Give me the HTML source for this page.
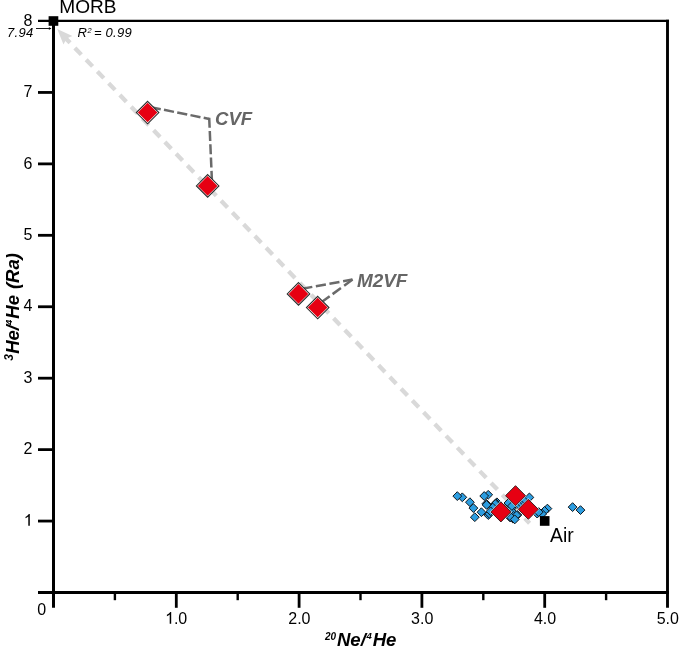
<!DOCTYPE html>
<html><head><meta charset="utf-8"><title>chart</title>
<style>
html,body{margin:0;padding:0;background:#fff;}
body{width:685px;height:652px;overflow:hidden;font-family:"Liberation Sans",sans-serif;}
svg{display:block;will-change:transform;}
text{font-family:"Liberation Sans",sans-serif;}
</style></head><body>
<svg width="685" height="652" viewBox="0 0 685 652">
<rect x="0" y="0" width="685" height="652" fill="#ffffff"/>
<g id="trend">
<line x1="63.65" y1="36.14" x2="529.6" y2="523.2" stroke="#d9d9d9" stroke-width="4.3" stroke-dasharray="9.3 6.97"/>
<path d="M57.2 28.9 L63.5 44.5 L66.6 38.6 L72.4 36.0 Z" fill="#d9d9d9"/>
</g>
<g id="leaders" fill="none" stroke="#6a6a6a" stroke-width="2.5">
<path d="M150.75 107.2 L209.2 118.9" stroke-dasharray="10.2 3.3"/>
<path d="M209.2 117.7 L211.9 180" stroke-dasharray="10 3.3"/>
<path d="M352.55 279.55 L300 289.1" stroke-dasharray="9.6 3.7 10.2 3.6 10.2 3.6 10"/>
<path d="M352.55 279.55 L321 302.6" stroke-dasharray="10.4 4 10.3 3.6 12"/>
</g>
<g id="axes" stroke="#000" fill="none" stroke-linecap="butt">
<line x1="53.5" y1="20" x2="53.5" y2="607.8" stroke-width="3"/>
<line x1="38" y1="592.5" x2="669" y2="592.5" stroke-width="3"/>
<line x1="38" y1="20.9" x2="669" y2="20.9" stroke-width="2.4"/>
<line x1="667.5" y1="19.7" x2="667.5" y2="607.8" stroke-width="2.9"/>
<line x1="38" y1="521.06" x2="53" y2="521.06" stroke-width="2.8"/>
<line x1="38" y1="449.62" x2="53" y2="449.62" stroke-width="2.8"/>
<line x1="38" y1="378.19" x2="53" y2="378.19" stroke-width="2.8"/>
<line x1="38" y1="306.75" x2="53" y2="306.75" stroke-width="2.8"/>
<line x1="38" y1="235.31" x2="53" y2="235.31" stroke-width="2.8"/>
<line x1="38" y1="163.88" x2="53" y2="163.88" stroke-width="2.8"/>
<line x1="38" y1="92.44" x2="53" y2="92.44" stroke-width="2.8"/>
<line x1="114.90" y1="592" x2="114.90" y2="600.2" stroke-width="2.4"/>
<line x1="176.30" y1="592" x2="176.30" y2="607.8" stroke-width="2.8"/>
<line x1="237.70" y1="592" x2="237.70" y2="600.2" stroke-width="2.4"/>
<line x1="299.10" y1="592" x2="299.10" y2="607.8" stroke-width="2.8"/>
<line x1="360.50" y1="592" x2="360.50" y2="600.2" stroke-width="2.4"/>
<line x1="421.90" y1="592" x2="421.90" y2="607.8" stroke-width="2.8"/>
<line x1="483.30" y1="592" x2="483.30" y2="600.2" stroke-width="2.4"/>
<line x1="544.70" y1="592" x2="544.70" y2="607.8" stroke-width="2.8"/>
<line x1="606.10" y1="592" x2="606.10" y2="600.2" stroke-width="2.4"/>
</g>
<g id="ticklabels" font-size="16" fill="#000">
<text x="32.3" y="454.27" text-anchor="end">2</text>
<text x="32.3" y="382.84" text-anchor="end">3</text>
<text x="32.3" y="311.40" text-anchor="end">4</text>
<text x="32.3" y="239.96" text-anchor="end">5</text>
<text x="32.3" y="168.53" text-anchor="end">6</text>
<text x="32.3" y="97.09" text-anchor="end">7</text>
<text x="32.3" y="25.65" text-anchor="end">8</text>
<path d="M171.2 623.7 L169.7 623.7 L169.7 614.4 Q168.4 615.6 166.9 616.2 L166.9 614.8 Q169.3 613.6 170.3 611.9 L171.2 611.9 Z" transform="translate(-141.4 -97.9)"/>
<text x="41.6" y="615.2" text-anchor="middle">0</text>
<path d="M171.2 623.7 L169.7 623.7 L169.7 614.4 Q168.4 615.6 166.9 616.2 L166.9 614.8 Q169.3 613.6 170.3 611.9 L171.2 611.9 Z"/>
<text x="173.9" y="623.6">.0</text>
<text x="299.40" y="623.6" text-anchor="middle">2.0</text>
<text x="422.20" y="623.6" text-anchor="middle">3.0</text>
<text x="545.00" y="623.6" text-anchor="middle">4.0</text>
<text x="667.80" y="623.6" text-anchor="middle">5.0</text>
</g>
<g id="blue" fill="#2c9de0" stroke="#10161c" stroke-width="1" stroke-linejoin="miter">
<path d="M462.3 492.9 L466.7 497.3 L462.3 501.7 L457.9 497.3Z"/>
<path d="M457.3 491.7 L461.7 496.1 L457.3 500.5 L452.9 496.1Z"/>
<path d="M469.9 497.8 L474.3 502.2 L469.9 506.6 L465.5 502.2Z"/>
<path d="M473.4 503.7 L477.8 508.1 L473.4 512.5 L469.0 508.1Z"/>
<path d="M474.8 512.8 L479.2 517.2 L474.8 521.6 L470.4 517.2Z"/>
<path d="M488.2 490.4 L492.6 494.8 L488.2 499.1 L483.8 494.8Z"/>
<path d="M484.2 491.6 L488.6 496.0 L484.2 500.4 L479.8 496.0Z"/>
<path d="M486.3 499.4 L490.7 503.8 L486.3 508.2 L481.9 503.8Z"/>
<path d="M486.6 500.5 L491.0 504.9 L486.6 509.3 L482.2 504.9Z"/>
<path d="M488.2 510.6 L492.6 515.0 L488.2 519.4 L483.8 515.0Z"/>
<path d="M489.4 509.4 L493.8 513.8 L489.4 518.2 L485.0 513.8Z"/>
<path d="M481.4 507.8 L485.8 512.2 L481.4 516.6 L477.1 512.2Z"/>
<path d="M496.9 497.9 L501.3 502.3 L496.9 506.7 L492.5 502.3Z"/>
<path d="M495.9 498.9 L500.3 503.3 L495.9 507.7 L491.5 503.3Z"/>
<path d="M495.3 499.6 L499.7 504.0 L495.3 508.4 L490.9 504.0Z"/>
<path d="M492.8 503.2 L497.2 507.6 L492.8 512.0 L488.4 507.6Z"/>
<path d="M490.6 506.9 L495.0 511.3 L490.6 515.7 L486.2 511.3Z"/>
<path d="M508.4 499.6 L512.8 504.0 L508.4 508.4 L504.0 504.0Z"/>
<path d="M511.8 503.8 L516.2 508.2 L511.8 512.6 L507.4 508.2Z"/>
<path d="M513.0 508.1 L517.4 512.5 L513.0 516.9 L508.6 512.5Z"/>
<path d="M510.0 513.0 L514.4 517.4 L510.0 521.8 L505.6 517.4Z"/>
<path d="M513.0 514.3 L517.4 518.7 L513.0 523.1 L508.6 518.7Z"/>
<path d="M515.0 513.0 L519.4 517.4 L515.0 521.8 L510.6 517.4Z"/>
<path d="M517.4 510.6 L521.8 515.0 L517.4 519.4 L513.0 515.0Z"/>
<path d="M508.4 498.6 L512.8 503.0 L508.4 507.4 L504.0 503.0Z"/>
<path d="M511.9 501.6 L516.3 506.0 L511.9 510.4 L507.5 506.0Z"/>
<path d="M513.6 511.5 L518.0 515.9 L513.6 520.3 L509.2 515.9Z"/>
<path d="M516.5 510.9 L520.9 515.3 L516.5 519.7 L512.1 515.3Z"/>
<path d="M511.3 513.2 L515.7 517.6 L511.3 522.0 L506.9 517.6Z"/>
<path d="M514.8 515.0 L519.2 519.4 L514.8 523.8 L510.4 519.4Z"/>
<path d="M519.6 501.2 L524.0 505.6 L519.6 510.0 L515.2 505.6Z"/>
<path d="M521.6 499.2 L526.0 503.6 L521.6 508.0 L517.2 503.6Z"/>
<path d="M523.6 497.2 L528.0 501.6 L523.6 506.0 L519.2 501.6Z"/>
<path d="M525.2 495.8 L529.6 500.2 L525.2 504.6 L520.8 500.2Z"/>
<path d="M529.4 493.0 L533.8 497.4 L529.4 501.8 L525.0 497.4Z"/>
<path d="M537.2 509.2 L541.6 513.6 L537.2 518.0 L532.8 513.6Z"/>
<path d="M547.4 504.2 L551.8 508.6 L547.4 513.0 L543.0 508.6Z"/>
<path d="M544.5 506.5 L548.9 510.9 L544.5 515.3 L540.1 510.9Z"/>
<path d="M542.2 509.5 L546.6 513.9 L542.2 518.3 L537.8 513.9Z"/>
<path d="M538.7 507.7 L543.1 512.1 L538.7 516.5 L534.3 512.1Z"/>
<path d="M572.6 502.7 L577.0 507.1 L572.6 511.5 L568.2 507.1Z"/>
<path d="M580.5 505.7 L584.9 510.1 L580.5 514.5 L576.1 510.1Z"/>
</g>
<rect x="539.9" y="516.1" width="9.6" height="9.7" fill="#000"/>
<g id="redc">
<path d="M515.50 485.65 L525.55 495.70 L515.50 505.75 L505.45 495.70Z" fill="none" stroke="#fff" stroke-width="1.5"/>
<path d="M515.50 485.65 L525.55 495.70 L515.50 505.75 L505.45 495.70Z" fill="#e60012" stroke="#2a1516" stroke-width="0.9"/>
<path d="M500.90 501.85 L510.95 511.90 L500.90 521.95 L490.85 511.90Z" fill="none" stroke="#fff" stroke-width="1.5"/>
<path d="M500.90 501.85 L510.95 511.90 L500.90 521.95 L490.85 511.90Z" fill="#e60012" stroke="#2a1516" stroke-width="0.9"/>
<path d="M528.30 499.25 L538.35 509.30 L528.30 519.35 L518.25 509.30Z" fill="none" stroke="#fff" stroke-width="1.5"/>
<path d="M528.30 499.25 L538.35 509.30 L528.30 519.35 L518.25 509.30Z" fill="#e60012" stroke="#2a1516" stroke-width="0.9"/>
</g>
<g id="redh">
<path d="M147.60 101.30 L158.85 112.55 L147.60 123.80 L136.35 112.55Z" fill="#fff" stroke="#2b2b2b" stroke-width="1.1"/>
<path d="M147.60 102.75 L157.40 112.55 L147.60 122.35 L137.80 112.55Z" fill="#e60012"/>
<path d="M207.65 174.65 L218.90 185.90 L207.65 197.15 L196.40 185.90Z" fill="#fff" stroke="#2b2b2b" stroke-width="1.1"/>
<path d="M207.65 176.10 L217.45 185.90 L207.65 195.70 L197.85 185.90Z" fill="#e60012"/>
<path d="M298.50 282.65 L309.75 293.90 L298.50 305.15 L287.25 293.90Z" fill="#fff" stroke="#2b2b2b" stroke-width="1.1"/>
<path d="M298.50 284.10 L308.30 293.90 L298.50 303.70 L288.70 293.90Z" fill="#e60012"/>
<path d="M317.70 296.30 L328.95 307.55 L317.70 318.80 L306.45 307.55Z" fill="#fff" stroke="#2b2b2b" stroke-width="1.1"/>
<path d="M317.70 297.75 L327.50 307.55 L317.70 317.35 L307.90 307.55Z" fill="#e60012"/>
</g>
<rect x="48.6" y="16.2" width="9.7" height="9.6" fill="#000"/>
<text x="59.3" y="13.4" font-size="19.1" fill="#000">MORB</text>
<text x="550.1" y="542.4" font-size="19.4" fill="#000">Air</text>
<text x="7.0" y="37.4" font-size="13" font-style="italic" letter-spacing="0.3" fill="#000">7.94</text>
<g font-size="13" font-style="italic" fill="#000"><text x="77.6" y="37.3">R</text><text x="87.4" y="32.6" font-size="7.4">2</text><text x="93.9" y="37.3">=</text><text x="105.5" y="37.3" letter-spacing="0.3">0.99</text></g>
<line x1="36" y1="28.5" x2="50" y2="28.5" stroke="#000" stroke-width="0.9"/>
<path d="M51.5 28.5 L48.6 26.9 L49.3 28.5 L48.6 30.1 Z" fill="#000"/>
<text x="215.0" y="125.3" font-size="18.6" font-weight="bold" font-style="italic" fill="#666">CVF</text>
<text x="357.0" y="286.5" font-size="18.9" font-weight="bold" font-style="italic" fill="#666">M2VF</text>
<g id="xtitle" font-weight="bold" font-style="italic" fill="#000">
<text x="325.0" y="639.8" font-size="10">20</text>
<text x="336.9" y="645.7" font-size="18.6">Ne/</text>
<text x="366.6" y="639.0" font-size="9.5">4</text>
<text x="372.7" y="645.7" font-size="18.6">He</text>
</g>
<g id="ytitle" transform="translate(18.9 360.7) rotate(-90)" font-weight="bold" font-style="italic" fill="#000">
<text x="0.0" y="-6.0" font-size="12">3</text>
<text x="6.9" y="0" font-size="18.5">He/</text>
<text x="35.8" y="-6.6" font-size="9.5">4</text>
<text x="42.0" y="0" font-size="18.5">He</text>
<text x="71.6" y="0" font-size="18.5">(Ra)</text>
</g>
</svg>
</body></html>
